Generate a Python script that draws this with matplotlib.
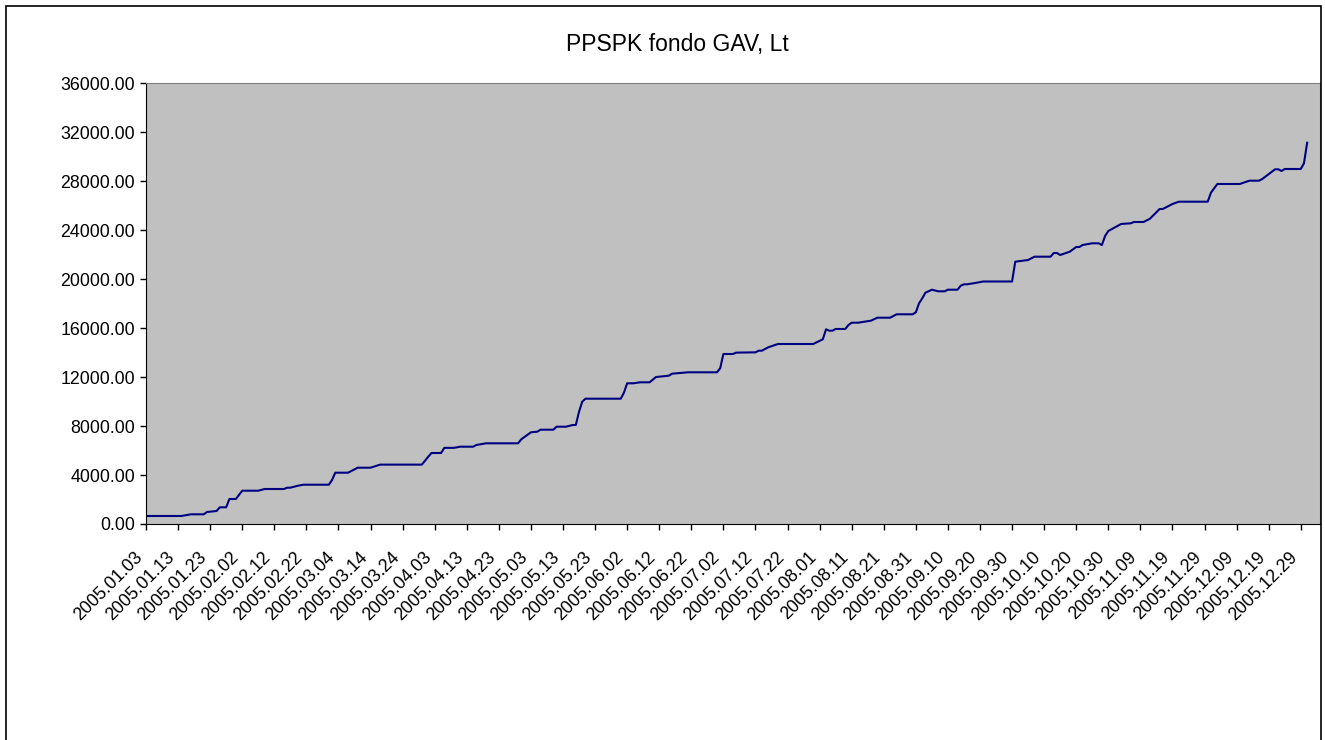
import matplotlib
matplotlib.use("Agg")
import matplotlib.pyplot as plt
import matplotlib.dates as mdates
from matplotlib.patches import Rectangle
from matplotlib.ticker import FuncFormatter
from matplotlib.transforms import ScaledTranslation
import pandas as pd

plt.rcParams['font.family'] = ['Liberation Sans', 'DejaVu Sans']

# duomenys nuskaityti nuo grafiko (lauzės viršūnės)
dates = ['01-03', '01-14', '01-17', '01-21', '01-22', '01-25', '01-26', '01-28', '01-29', '01-31',
         '02-02', '02-07', '02-09', '02-15', '02-16', '02-17', '02-19', '02-21', '03-01', '03-02',
         '03-03', '03-07', '03-10', '03-14', '03-17', '03-30', '04-01', '04-02', '04-05', '04-06',
         '04-09', '04-11', '04-15', '04-16', '04-19', '04-29', '04-30', '05-03', '05-05', '05-06',
         '05-10', '05-11', '05-14', '05-16', '05-17', '05-18', '05-19', '05-20', '05-31', '06-01',
         '06-02', '06-04', '06-06', '06-09', '06-11', '06-15', '06-16', '06-21', '06-30', '07-01',
         '07-02', '07-05', '07-06', '07-12', '07-13', '07-14', '07-16', '07-19', '07-30', '08-02',
         '08-03', '08-04', '08-05', '08-06', '08-09', '08-10', '08-11', '08-13', '08-17', '08-19',
         '08-23', '08-25', '08-30', '08-31', '09-01', '09-02', '09-03', '09-05', '09-07', '09-09',
         '09-10', '09-13', '09-14', '09-15', '09-16', '09-19', '09-21', '09-30', '10-01', '10-05',
         '10-07', '10-12', '10-13', '10-14', '10-15', '10-18', '10-20', '10-21', '10-22', '10-25',
         '10-27', '10-28', '10-29', '10-30', '11-03', '11-06', '11-07', '11-10', '11-12', '11-15',
         '11-16', '11-19', '11-21', '11-30', '12-01', '12-03', '12-10', '12-13', '12-16', '12-17',
         '12-21', '12-22', '12-23', '12-24', '12-29', '12-30', '12-31']
values = [654, 654, 792, 792, 980, 1062, 1364, 1364, 2042, 2042,
          2720, 2720, 2859, 2859, 2965, 2965, 3104, 3210, 3210, 3594,
          4191, 4191, 4599, 4599, 4850, 4850, 5500, 5800, 5800, 6220,
          6220, 6315, 6315, 6454, 6592, 6592, 6919, 7491, 7540, 7704,
          7704, 7949, 7949, 8087, 8087, 9174, 9991, 10236, 10236, 10726,
          11494, 11494, 11575, 11575, 12008, 12115, 12278, 12393, 12393, 12719,
          13887, 13887, 14000, 14022, 14157, 14157, 14435, 14704, 14704, 15088,
          15905, 15791, 15791, 15930, 15930, 16256, 16444, 16444, 16608, 16853,
          16853, 17131, 17131, 17294, 18029, 18438, 18895, 19140, 19009, 19009,
          19140, 19140, 19467, 19581, 19581, 19712, 19810, 19810, 21427, 21566,
          21836, 21836, 22138, 22138, 21974, 22245, 22629, 22629, 22792, 22931,
          22931, 22792, 23527, 23935, 24507, 24564, 24670, 24670, 24940, 25733,
          25733, 26141, 26329, 26329, 27064, 27775, 27775, 28045, 28045, 28183,
          28976, 28976, 28837, 29000, 29000, 29466, 31149]

x = pd.to_datetime(['2005-' + d for d in dates])
ticks = pd.date_range('2005-01-03', '2005-12-29', freq='10D')

fig = plt.figure(figsize=(13.25, 7.4), dpi=100)
ax = fig.add_axes([146 / 1325, 1 - 524 / 740, (1320 - 146) / 1325, (524 - 83.3) / 740])
ax.set_facecolor('#C0C0C0')

ax.plot(x, values, color='#000080', lw=1.5)

ax.set_xlim(pd.Timestamp('2005-01-03'), pd.Timestamp('2006-01-04'))
ax.set_ylim(0, 36000)
ax.set_yticks(range(0, 36001, 4000))
ax.yaxis.set_major_formatter(FuncFormatter(lambda v, p: '%.2f' % v))
ax.set_xticks(ticks)
ax.xaxis.set_major_formatter(mdates.DateFormatter('%Y.%m.%d'))

ax.tick_params(axis='both', direction='out', length=4, width=1, labelsize=12.8, colors='black')
ax.tick_params(axis='y', pad=4)
ax.tick_params(axis='x', pad=6)

# pasvirę datų užrašai, paslinkti kaip Excel'yje
shift = ScaledTranslation(-0.12, -0.11, fig.dpi_scale_trans)
for lbl in ax.get_xticklabels():
    lbl.set_rotation(45)
    lbl.set_ha('right')
    lbl.set_va('top')
    lbl.set_rotation_mode('anchor')
    lbl.set_transform(lbl.get_transform() + shift)

for s in ['top', 'right']:
    ax.spines[s].set_color('#808080')
for s in ['left', 'bottom']:
    ax.spines[s].set_color('black')

fig.text(677 / 1325, 1 - 45 / 740, 'PPSPK fondo GAV, Lt', ha='center', va='center', fontsize=16.5)

# remelis aplink visa diagrama
fig.patches.append(Rectangle((6 / 1325, -0.02), 1315 / 1325, 1.02 - 6 / 740, transform=fig.transFigure,
                             fill=False, edgecolor='black', lw=1.2))

fig.savefig('out.png', dpi=100)
